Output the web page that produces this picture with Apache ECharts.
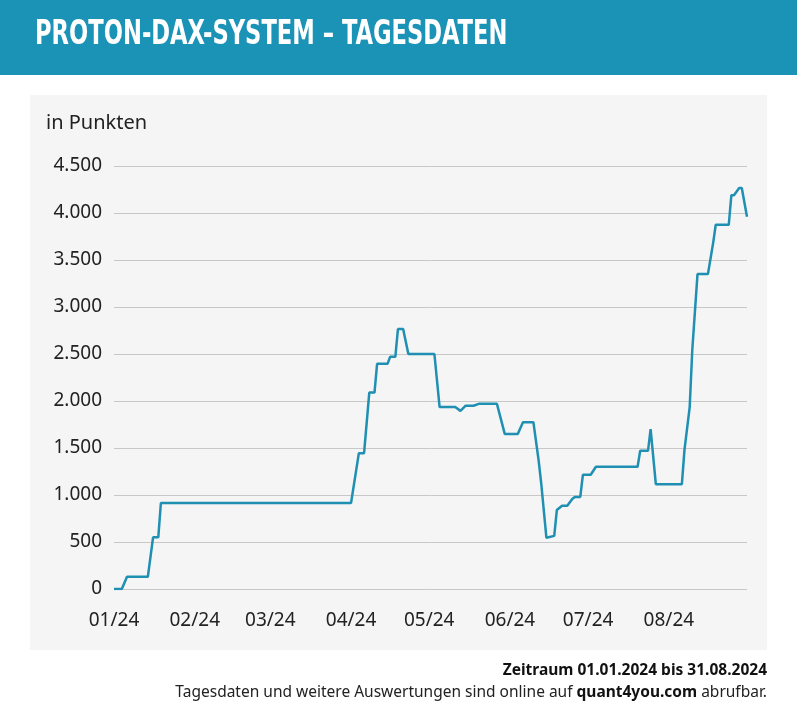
<!DOCTYPE html>
<html><head><meta charset="utf-8">
<script src="https://cdn.jsdelivr.net/npm/echarts@6/dist/echarts.min.js"></script>
<style>html,body{margin:0;padding:0;background:#fff}#c{width:797px;height:722px}</style>
</head><body><div id="c"></div>
<script>
const dates = ['2024-01-01','2024-01-04','2024-01-06','2024-01-14','2024-01-16','2024-01-18','2024-01-19','2024-04-01','2024-04-04','2024-04-06','2024-04-08','2024-04-10','2024-04-11','2024-04-15','2024-04-16','2024-04-18','2024-04-19','2024-04-21','2024-04-23','2024-05-03','2024-05-05','2024-05-11','2024-05-13','2024-05-15','2024-05-18','2024-05-20','2024-05-27','2024-05-30','2024-06-04','2024-06-06','2024-06-10','2024-06-12','2024-06-13','2024-06-15','2024-06-18','2024-06-19','2024-06-21','2024-06-23','2024-06-25','2024-06-26','2024-06-28','2024-06-29','2024-07-02','2024-07-04','2024-07-20','2024-07-21','2024-07-24','2024-07-25','2024-07-27','2024-08-06','2024-08-07','2024-08-09','2024-08-10','2024-08-12','2024-08-16','2024-08-18','2024-08-19','2024-08-24','2024-08-25','2024-08-26','2024-08-28','2024-08-29','2024-08-31'];
const values = [0,0,130,130,550,550,915,915,1445,1445,2090,2090,2395,2395,2470,2470,2765,2765,2500,2500,1935,1935,1895,1950,1950,1970,1970,1650,1650,1775,1775,1370,1125,545,565,840,885,885,960,980,980,1215,1215,1300,1300,1470,1470,1700,1115,1115,1480,1935,2545,3350,3350,3680,3875,3875,4190,4190,4265,4265,3960];
const yTicks = [0,500,1000,1500,2000,2500,3000,3500,4000,4500];
const title = 'PROTON-DAX-SYSTEM – TAGESDATEN';
const unit = 'in Punkten';
const footer1 = 'Zeitraum 01.01.2024 bis 31.08.2024';

const chart = echarts.init(document.getElementById('c'));
const fmt = v => v.toLocaleString('de-DE');
chart.setOption({
  animation:false,
  backgroundColor:'#fff',
  graphic:[
    {type:'rect',shape:{x:0,y:0,width:797,height:75},style:{fill:'#1a93b6'},z:0},
    {type:'text',x:35,y:18,scaleX:0.74,style:{text:title,fill:'#fff',font:'bold 34px "DejaVu Sans Condensed"'}},
    {type:'rect',shape:{x:30,y:95,width:737,height:555},style:{fill:'#f5f5f6'},z:-1},
    {type:'text',left:46,top:113,style:{text:unit,fill:'#222',font:'20px "Noto Sans"'}},
    {type:'text',right:30,top:663,style:{text:footer1,fill:'#111',font:'bold 15.5px "Noto Sans"',align:'right'}},
    {type:'text',right:30,top:685,style:{text:'{a|Tagesdaten und weitere Auswertungen sind online auf }{b|quant4you.com}{a| abrufbar.}',align:'right',
      rich:{a:{fill:'#222',font:'15.5px "Noto Sans"'},b:{fill:'#111',font:'bold 15.5px "Noto Sans"'}}}}
  ],
  grid:{left:114,right:50,top:166,bottom:133},
  xAxis:{type:'time',min:'2024-01-01',max:'2024-08-31',
    axisLine:{show:false},axisTick:{show:false},splitLine:{show:false},
    axisLabel:{color:'#222',fontSize:19,fontFamily:'Noto Sans',margin:22,
      formatter:v=>{const d=new Date(v);return String(d.getMonth()+1).padStart(2,'0')+'/24';}}},
  yAxis:{type:'value',min:yTicks[0],max:yTicks[yTicks.length-1],interval:500,
    axisLine:{show:false},axisTick:{show:false},
    splitLine:{lineStyle:{color:'#c8c8c8',width:1}},
    axisLabel:{color:'#222',fontSize:19,fontFamily:'Noto Sans',margin:12,formatter:fmt}},
  series:[{type:'line',data:dates.map((d,i)=>[d,values[i]]),showSymbol:false,
    lineStyle:{color:'#1f8fb2',width:2.5},itemStyle:{color:'#1f8fb2'}}]
});
</script></body></html>
